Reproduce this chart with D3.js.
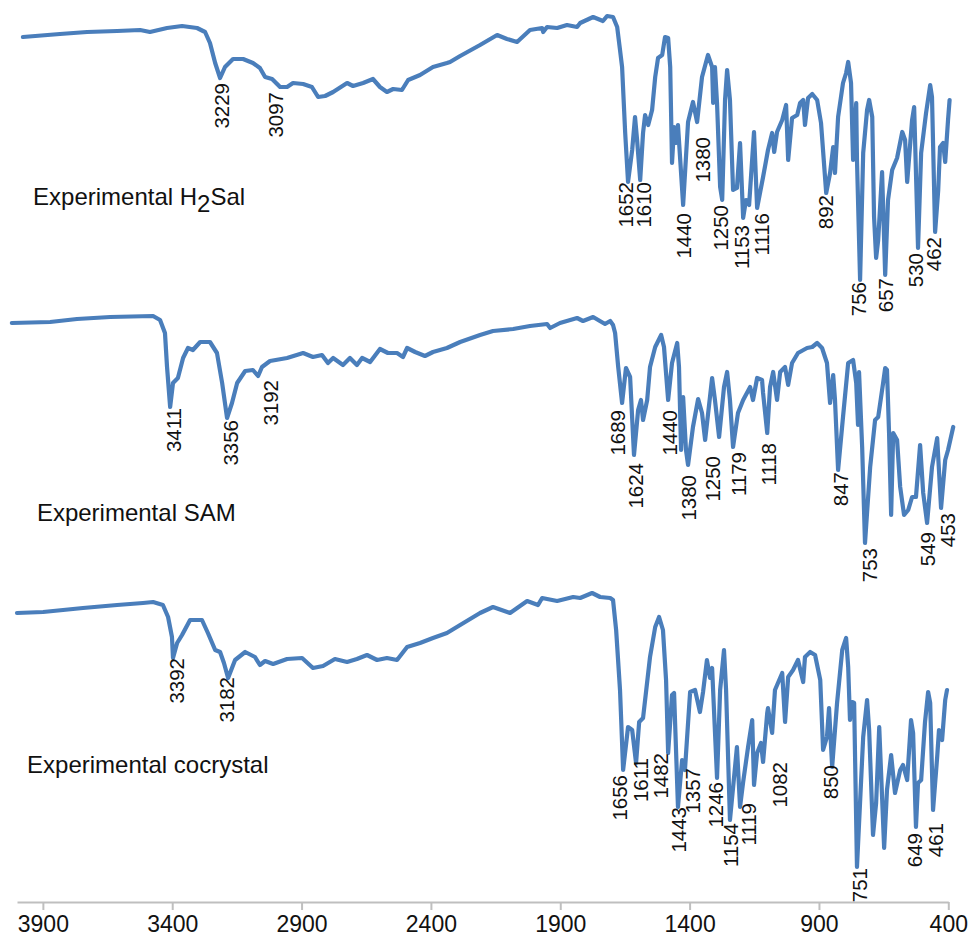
<!DOCTYPE html>
<html>

<head>
  <meta charset="utf-8" />
  <title>IR spectra</title>
  <style>
    body {
      margin: 0;
      background: #fff;
    }

    #chartArea {
      width: 968px;
      height: 940px;
    }

    text {
      font-family: Arial, "Liberation Sans", sans-serif;
      fill: #111;
    }
  </style>
  <script src="https://cdnjs.cloudflare.com/ajax/libs/d3/7.8.5/d3.min.js"></script>
</head>

<body>
  <div id="chartArea"></div>
  <script>
    // x ticks on the wavenumber axis (cm-1)
    var tickValues = [3900, 3400, 2900, 2400, 1900, 1400, 900, 400];

    // [wavenumber, transmittance (offset, arbitrary)]
    var h2sal = [[3977, 86.3], [3834, 86.6], [3729, 86.8], [3613, 86.9], [3524, 87.0], [3486, 86.8], [3420, 87.2],
      [3362, 87.4], [3304, 87.2], [3273, 86.8], [3254, 85.7], [3234, 83.7], [3215, 82.2], [3196, 83.3], [3165, 84.1],
      [3126, 84.1], [3088, 83.7], [3061, 83.2], [3041, 82.3], [3014, 82.1], [2983, 81.3], [2956, 81.3], [2933, 81.7],
      [2894, 81.6], [2860, 81.3], [2836, 80.3], [2809, 80.4], [2778, 80.8], [2724, 81.7], [2701, 81.4], [2662, 81.7],
      [2624, 82.1], [2597, 81.3], [2570, 80.8], [2546, 81.1], [2512, 81.0], [2488, 82.0], [2442, 82.5], [2392, 83.3],
      [2338, 83.7], [2326, 83.8], [2287, 84.4], [2210, 85.5], [2144, 86.5], [2106, 86.1], [2067, 85.8], [2017, 87.0],
      [1970, 87.2], [1966, 86.8], [1951, 87.3], [1912, 87.2], [1874, 87.5], [1835, 87.3], [1823, 87.7], [1773, 88.3],
      [1735, 87.9], [1719, 88.4], [1696, 88.3], [1680, 87.3], [1669, 85.0], [1661, 83.3], [1649, 76.7], [1638, 71.8],
      [1622, 75.0], [1611, 78.3], [1603, 76.0], [1591, 72.0], [1580, 76.7], [1572, 78.5], [1560, 77.5], [1545, 79.0],
      [1533, 82.3], [1522, 84.2], [1506, 84.5], [1495, 86.3], [1483, 86.2], [1475, 83.3], [1468, 73.7], [1460, 77.3],
      [1452, 75.7], [1445, 77.5], [1425, 69.5], [1406, 77.8], [1387, 79.8], [1371, 77.8], [1352, 82.3], [1329, 84.5],
      [1313, 83.3], [1309, 79.7], [1302, 83.3], [1294, 79.7], [1282, 71.3], [1274, 70.0], [1263, 80.0], [1255, 83.0],
      [1244, 80.0], [1232, 71.0], [1217, 71.2], [1205, 75.7], [1193, 68.2], [1182, 70.0], [1170, 69.5], [1151, 76.8],
      [1139, 69.2], [1116, 72.3], [1097, 75.0], [1081, 76.7], [1073, 74.8], [1062, 76.8], [1042, 78.0], [1027, 79.5],
      [1019, 74.0], [1004, 78.2], [984, 78.5], [973, 79.7], [961, 80.0], [954, 77.5], [942, 80.2], [926, 80.6],
      [907, 80.0], [892, 77.7], [872, 70.7], [857, 72.7], [845, 75.3], [838, 72.7], [826, 78.3], [807, 81.7],
      [795, 82.7], [787, 83.8], [776, 81.7], [768, 74.0], [756, 79.7], [753, 74.0], [741, 62.0], [729, 74.7],
      [714, 79.0], [706, 80.0], [694, 78.3], [687, 68.3], [679, 64.2], [671, 66.0], [656, 72.8], [644, 62.5],
      [633, 70.0], [617, 73.0], [598, 74.2], [578, 76.8], [567, 76.0], [559, 71.8], [540, 78.0], [532, 79.3],
      [517, 65.2], [505, 74.7], [486, 78.7], [470, 81.5], [463, 80.3], [451, 66.8], [439, 71.0], [432, 75.3],
      [420, 75.7], [412, 73.8], [401, 78.0], [395, 80.0]];

    var sam = [[4020, 57.7], [3872, 57.8], [3768, 58.1], [3640, 58.3], [3474, 58.4], [3447, 58.0], [3428, 56.7],
      [3420, 53.3], [3408, 49.3], [3397, 51.7], [3378, 52.2], [3358, 54.2], [3339, 55.2], [3320, 55.0], [3292, 55.8],
      [3254, 55.8], [3227, 54.7], [3207, 51.7], [3188, 48.2], [3169, 49.7], [3149, 51.7], [3118, 52.9], [3088, 53.0],
      [3068, 52.4], [3053, 53.3], [3022, 53.9], [2956, 54.2], [2894, 54.7], [2856, 54.3], [2821, 54.5], [2798, 53.7],
      [2778, 54.2], [2740, 53.5], [2713, 54.2], [2686, 53.5], [2666, 54.2], [2635, 53.8], [2597, 55.1], [2566, 54.7],
      [2531, 54.7], [2508, 54.3], [2492, 55.2], [2461, 54.8], [2423, 54.4], [2392, 54.8], [2338, 55.2], [2287, 55.8],
      [2210, 56.5], [2160, 56.9], [2082, 57.1], [2017, 57.4], [1951, 57.6], [1939, 57.2], [1901, 57.7], [1835, 58.2],
      [1812, 57.9], [1773, 58.3], [1727, 57.6], [1707, 57.9], [1696, 57.5], [1688, 56.7], [1676, 53.3], [1661, 49.7],
      [1646, 53.2], [1630, 52.3], [1615, 44.5], [1599, 49.0], [1588, 50.0], [1580, 48.0], [1564, 50.0], [1553, 53.3],
      [1533, 55.3], [1510, 56.5], [1499, 55.3], [1483, 50.0], [1468, 53.7], [1448, 55.7], [1441, 53.3], [1433, 45.0],
      [1425, 50.3], [1414, 45.0], [1406, 43.5], [1387, 47.3], [1367, 50.1], [1352, 48.7], [1340, 46.0], [1313, 52.2],
      [1302, 50.0], [1286, 46.3], [1267, 51.3], [1255, 52.8], [1244, 50.0], [1232, 45.3], [1213, 48.7], [1193, 50.0],
      [1166, 51.3], [1155, 50.0], [1139, 52.2], [1120, 52.0], [1116, 50.7], [1100, 46.7], [1089, 51.3], [1077, 52.8],
      [1062, 50.0], [1050, 52.8], [1031, 53.3], [1019, 51.5], [1004, 53.7], [981, 54.7], [946, 55.2], [926, 55.3],
      [907, 55.7], [888, 55.2], [869, 53.7], [857, 49.7], [845, 52.5], [838, 50.0], [826, 43.0], [807, 48.3],
      [787, 53.7], [768, 54.0], [756, 51.7], [749, 47.5], [745, 52.8], [733, 45.3], [722, 35.7], [702, 43.3],
      [683, 48.0], [671, 48.3], [652, 51.7], [644, 53.2], [637, 53.0], [629, 46.7], [621, 38.5], [613, 46.7],
      [598, 46.0], [586, 41.3], [571, 38.5], [555, 39.0], [540, 40.3], [525, 40.3], [509, 45.5], [497, 40.7],
      [482, 37.7], [463, 43.3], [443, 46.2], [428, 39.2], [412, 44.0], [401, 45.0], [381, 47.3]];

    var cocrystal = [[4000, 28.7], [3899, 28.8], [3745, 29.2], [3613, 29.5], [3513, 29.7], [3474, 29.8], [3436, 29.5],
      [3416, 28.3], [3401, 26.3], [3397, 24.2], [3381, 25.7], [3362, 26.5], [3331, 28.0], [3285, 28.0], [3262, 26.7],
      [3234, 25.0], [3215, 24.8], [3200, 23.7], [3184, 22.2], [3157, 24.0], [3118, 24.8], [3080, 24.3], [3061, 23.5],
      [3041, 23.9], [3010, 23.6], [2956, 24.1], [2898, 24.2], [2856, 23.2], [2817, 23.4], [2771, 24.1], [2724, 23.8],
      [2686, 24.1], [2647, 24.5], [2608, 24.0], [2570, 24.2], [2531, 24.0], [2492, 25.3], [2442, 25.7], [2392, 26.2],
      [2338, 26.7], [2287, 27.5], [2210, 28.7], [2160, 29.3], [2094, 28.7], [2028, 29.9], [1986, 29.5], [1970, 30.2],
      [1912, 29.9], [1850, 30.3], [1823, 30.2], [1777, 30.7], [1746, 30.3], [1707, 30.2], [1696, 30.0], [1684, 27.0],
      [1669, 21.0], [1657, 13.0], [1638, 17.3], [1622, 17.0], [1607, 13.7], [1595, 17.8], [1580, 18.2], [1553, 24.3],
      [1533, 27.3], [1518, 28.3], [1503, 27.0], [1491, 22.0], [1483, 14.7], [1468, 20.5], [1460, 20.7], [1445, 9.3],
      [1429, 14.0], [1418, 13.0], [1398, 20.8], [1379, 21.0], [1360, 18.8], [1348, 20.8], [1333, 24.0], [1321, 22.2],
      [1313, 23.2], [1294, 12.2], [1282, 21.0], [1267, 25.0], [1259, 21.0], [1244, 8.0], [1217, 15.3], [1205, 9.3],
      [1193, 11.8], [1174, 15.3], [1158, 18.0], [1151, 11.5], [1139, 14.7], [1124, 15.7], [1116, 13.8], [1100, 18.7],
      [1097, 19.2], [1081, 16.7], [1070, 21.0], [1042, 22.7], [1031, 17.8], [1019, 22.3], [1000, 23.0], [981, 24.0],
      [961, 21.8], [954, 24.3], [934, 24.8], [915, 24.5], [895, 22.0], [884, 15.0], [869, 16.3], [861, 19.2],
      [849, 13.3], [830, 19.7], [810, 25.0], [795, 26.2], [787, 23.3], [780, 18.0], [772, 19.8], [764, 19.7],
      [753, 3.3], [729, 16.3], [714, 20.0], [706, 17.0], [691, 6.5], [679, 9.7], [667, 17.3], [648, 5.2],
      [637, 11.0], [621, 14.5], [606, 10.7], [586, 13.0], [575, 13.5], [559, 12.0], [544, 18.0], [536, 16.7],
      [525, 7.3], [517, 11.7], [505, 12.0], [490, 17.8], [478, 20.8], [470, 19.7], [459, 9.0], [443, 14.3],
      [436, 17.0], [424, 16.0], [412, 20.0], [405, 21.0]];

    // peak labels: [text, wavenumber where drawn, top of label]
    var h2salPeaks = [['3229', 3209, 81.7], ['3097', 3000, 80.8], ['1652', 1647, 71.8], ['1610', 1576, 71.8],
      ['1440', 1424, 68.7], ['1380', 1351, 76.3], ['1250', 1280, 69.5], ['1153', 1198, 67.5], ['1116', 1121, 68.7],
      ['892', 874, 70.5], ['756', 745, 61.8], ['657', 642, 62.2], ['530', 526, 64.7], ['462', 458, 66.3]];
    var samPeaks = [['3411', 3396, 49.2], ['3356', 3174, 48.0], ['3192', 3019, 52.0], ['1689', 1679, 49.0],
      ['1624', 1608, 43.7], ['1440', 1479, 49.0], ['1380', 1402, 42.5], ['1250', 1312, 44.4], ['1179', 1209, 44.8],
      ['1118', 1093, 45.7], ['847', 816, 42.8], ['753', 706, 35.2], ['549', 481, 36.8], ['453', 403, 38.7]];
    var cocrystalPeaks = [['3392', 3383, 24.2], ['3182', 3189, 22.3], ['1656', 1669, 12.5], ['1611', 1589, 14.2],
      ['1482', 1511, 14.7], ['1443', 1441, 9.3], ['1357', 1389, 13.2], ['1246', 1299, 11.8], ['1154', 1241, 7.7],
      ['1119', 1170, 9.7], ['1082', 1054, 13.8], ['850', 854, 13.5], ['751', 741, 3.2], ['649', 532, 6.7],
      ['461', 448, 7.7]];

    // series names: [wavenumber, value] of the text start
    var seriesNames = ['Experimental H', 'Experimental SAM', 'Experimental cocrystal'];
    var namePos = [[3938, 69.5], [3923, 37.9], [3961, 12.7]];

    var w = 968,
      h = 940,
      plotH = 900;

    var xScale = d3.scaleLinear()
      .domain([4000, 400])
      .range([17, 948.3]);

    var yScale = d3.scaleLinear()
      .domain([0, 90])
      .range([plotH, 0]);

    var svg = d3.select('#chartArea').append('svg')
      .attr('width', w)
      .attr('height', h);

    // axis
    var xAxis = d3.axisBottom(xScale)
      .tickValues(tickValues)
      .tickSize(8)
      .tickSizeOuter(0)
      .tickPadding(6)
      .tickFormat(d3.format('d'));

    var axisG = svg.append('g')
      .attr('transform', 'translate(0,' + (plotH + 2) + ')')
      .call(xAxis);
    axisG.select('.domain').attr('stroke', '#bfbfbf').attr('stroke-width', 2);
    axisG.selectAll('.tick line').attr('stroke', '#bfbfbf').attr('stroke-width', 2);
    axisG.selectAll('.tick text')
      .attr('fill', '#111')
      .style('font-family', 'Arial, "Liberation Sans", sans-serif')
      .style('font-size', '23px');

    var line = d3.line()
      .x(d => xScale(d[0]))
      .y(d => yScale(d[1]));

    svg.selectAll('path.spectrum')
      .data([h2sal, sam, cocrystal])
      .enter()
      .append('path')
      .attr('class', 'spectrum')
      .attr('d', line)
      .attr('fill', 'none')
      .attr('stroke', '#4a7ebb')
      .attr('stroke-width', 4.2)
      .attr('stroke-linejoin', 'round')
      .attr('stroke-linecap', 'round');

    // rotated peak labels, text runs upward and ends at the given point
    var allPeaks = h2salPeaks.concat(samPeaks, cocrystalPeaks);
    svg.selectAll('text.peak')
      .data(allPeaks)
      .enter()
      .append('text')
      .attr('class', 'peak')
      .attr('transform', d => 'translate(' + xScale(d[1]) + ',' + yScale(d[2]) + ') rotate(-90)')
      .attr('text-anchor', 'end')
      .attr('dy', '0.36em')
      .style('font-size', '20.5px')
      .text(d => d[0]);

    // series names
    var names = svg.selectAll('text.name')
      .data(seriesNames)
      .enter()
      .append('text')
      .attr('class', 'name')
      .attr('x', (d, i) => xScale(namePos[i][0]))
      .attr('y', (d, i) => yScale(namePos[i][1]))
      .style('font-size', '24px')
      .text(d => d);

    // H2Sal gets its subscript 2
    var first = names.filter((d, i) => i === 0);
    first.append('tspan').attr('dy', 7).text('2');
    first.append('tspan').attr('dy', -7).text('Sal');
  </script>
</body>

</html>
